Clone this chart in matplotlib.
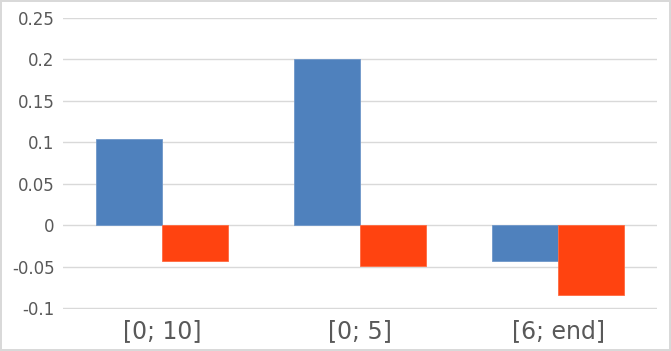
import matplotlib.pyplot as plt
import numpy as np

plt.rcParams["font.family"] = ["DejaVu Sans"]

# chart data
categories = ["[0; 10]", "[0; 5]", "[6; end]"]
series_a = [0.104, 0.200, -0.043]
series_b = [-0.043, -0.049, -0.084]
y_ticks = [-0.1, -0.05, 0, 0.05, 0.1, 0.15, 0.2, 0.25]
y_labels = ["-0.1", "-0.05", "0", "0.05", "0.1", "0.15", "0.2", "0.25"]

W, H = 671, 351
fig = plt.figure(figsize=(W / 100, H / 100), dpi=100)
fig.patch.set_edgecolor("#d9d9d9")
fig.patch.set_linewidth(1.5)

ax = fig.add_axes([63 / W, 1 - 309 / H, (657 - 63) / W, (309 - 18) / H])

x = np.arange(len(categories))
w = 1 / 3
ax.bar(x - w / 2, series_a, w, color="#4f81bd", edgecolor="#6f97c9", linewidth=0.6, zorder=3)
ax.bar(x + w / 2, series_b, w, color="#ff4310", edgecolor="#ff6a40", linewidth=0.6, zorder=3)

ax.set_xlim(-0.5, 2.5)
ax.set_ylim(-0.1012, 0.25)
ax.set_yticks(y_ticks)
ax.set_yticklabels(y_labels, fontsize=12, color="#595959")
ax.set_xticks(x)
ax.set_xticklabels(categories, fontsize=17, color="#595959")
ax.tick_params(length=0)
ax.tick_params(axis="y", pad=6)
ax.tick_params(axis="x", pad=7)
ax.grid(axis="y", color="#d9d9d9", linewidth=1, zorder=0)
for s in ax.spines.values():
    s.set_visible(False)

fig.savefig("out.png", dpi=100)
